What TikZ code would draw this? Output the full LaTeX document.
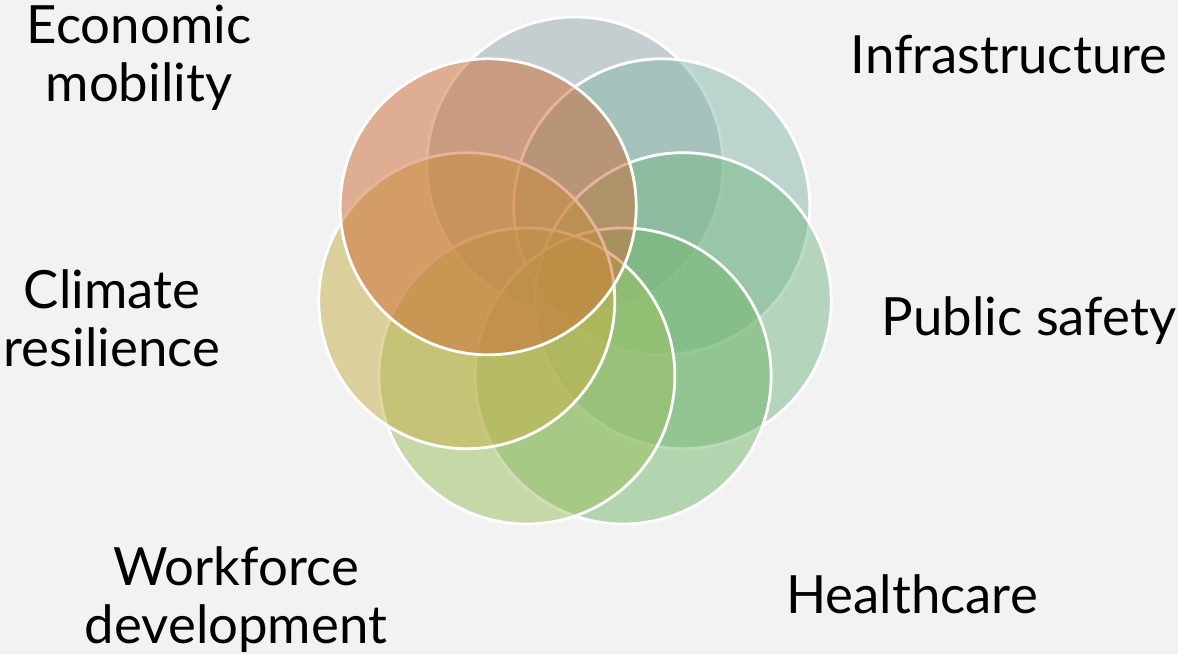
\documentclass[tikz,border=0pt]{standalone}
\usepackage{fontspec}
\setmainfont{Lato}

\definecolor{paper}{HTML}{F2F2F2}
\definecolor{petalgray}{HTML}{98AAAE}
\definecolor{petalteal}{HTML}{88B8AC}
\definecolor{petalgreen}{HTML}{78B886}
\definecolor{petalleaf}{HTML}{74B86C}
\definecolor{petallime}{HTML}{9EC060}
\definecolor{petalsand}{HTML}{C6B046}
\definecolor{petalrust}{HTML}{CE6A34}

\begin{document}
\begin{tikzpicture}[
    petal/.style={circle, draw=white, line width=0.8pt, fill opacity=0.5,
      draw opacity=1, minimum size=2.96cm, inner sep=0pt},
    topic/.style={align=center, anchor=base, inner sep=0pt,
      font=\fontsize{15}{16.5}\selectfont}
  ]
    \fill[paper] (0, 0) rectangle (11.78, 6.54);
    \useasboundingbox (0, 0) rectangle (11.78, 6.54);

    % seven petals on a ring, clockwise from the top
    \coordinate (hub) at (5.75, 3.78);
    \foreach \col [count=\k from 0] in {petalgray, petalteal, petalgreen, petalleaf, petallime, petalsand, petalrust}
      \node[petal, fill=\col] (p\k) at ([shift={(90-\k*360/7:1.11)}]hub) {};

    % base anchor sits on the last line
    \node[topic] (econ) at (1.39, 5.53) {Economic\\mobility};
    \node[topic] (infra) at (10.09, 5.81) {Infrastructure};
    \node[topic] (climate) at (1.12, 2.88) {Climate\\resilience};
    \node[topic] (safety) at (10.29, 3.19) {Public safety};
    \node[topic] (work) at (2.36, 0.11) {Workforce\\development};
    \node[topic] (health) at (9.12, 0.41) {Healthcare};
  \end{tikzpicture}
\end{document}
